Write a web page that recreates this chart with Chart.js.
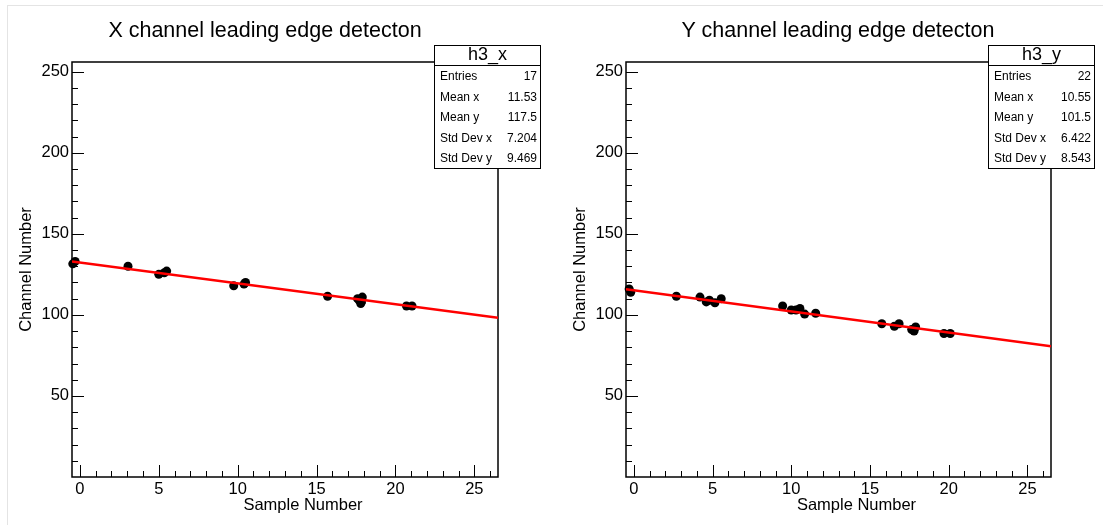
<!DOCTYPE html>
<html>
<head>
<meta charset="utf-8">
<script src="https://cdn.jsdelivr.net/npm/chart.js@4/dist/chart.umd.min.js"></script>
<style>
  body { margin: 0; background: #fff; font-family: "Liberation Sans", Arial, Helvetica, sans-serif; }
  #page { position: relative; width: 1103px; height: 525px; overflow: hidden; background: #fff; }
  #edge { position: absolute; left: 7px; top: 5px; width: 1100px; height: 530px; border-top: 1px solid #e4e4e4; border-left: 1px solid #e4e4e4; }
  canvas { position: absolute; top: 0; }
  .title { position: absolute; top: 17px; width: 420px; text-align: center; font-size: 21.5px; line-height: 26px; color: #000; }
  .stats { position: absolute; top: 45px; width: 105px; height: 122px; border: 1px solid #000; background: #fff; color: #000; }
  .stats .head { height: 19px; line-height: 17px; border-bottom: 1px solid #000; text-align: center; font-size: 18px; }
  .stats .row { display: flex; justify-content: space-between; padding: 0 3px 0 5px; font-size: 12px; line-height: 20.6px; }
</style>
</head>
<body>
<div id="page">
  <div id="edge"></div>
  <canvas id="chartX" width="551" height="525" style="left:0"></canvas>
  <canvas id="chartY" width="549" height="525" style="left:554px"></canvas>
  <div class="title" style="left:55px">X channel leading edge detecton</div>
  <div class="title" style="left:628px">Y channel leading edge detecton</div>
  <div class="stats" id="statsX" style="left:434px"></div>
  <div class="stats" id="statsY" style="left:988px"></div>
</div>
<script>
// tick labels
const xTickLabels = [0, 5, 10, 15, 20, 25];
const yTickLabels = [50, 100, 150, 200, 250];

// X channel: detected points and fitted line ends
const xSample  = [-0.45, -0.3, 3.05, 5.0, 5.35, 5.5, 9.75, 10.4, 10.5, 15.7, 17.6, 17.7, 17.8, 17.85, 17.9, 20.7, 21.05];
const xChannel = [131.5, 133, 130, 125, 126, 127, 118, 119, 120, 111.5, 110, 109, 107, 108, 111, 105.5, 105.5];
const xFitSample  = [-0.5, 26.5];
const xFitChannel = [133.0, 98.3];

// Y channel
const ySample  = [-0.3, -0.2, 2.7, 4.2, 4.6, 4.8, 5.15, 5.55, 9.45, 10.0, 10.3, 10.55, 10.85, 11.55, 15.75, 16.55, 16.85, 17.65, 17.8, 17.9, 19.7, 20.1];
const yChannel = [116, 114, 111.5, 111, 108, 109, 107.5, 110, 105.5, 103, 103, 104, 100.5, 101, 94.5, 93, 94.5, 91, 90, 92.5, 88.5, 88.5];
const yFitSample  = [-0.5, 26.5];
const yFitChannel = [115.8, 80.7];

// stats boxes
const statNames   = ['Entries', 'Mean x', 'Mean y', 'Std Dev x', 'Std Dev y'];
const statsXVals  = ['17', '11.53', '117.5', '7.204', '9.469'];
const statsYVals  = ['22', '10.55', '101.5', '6.422', '8.543'];

const FONT = '"Liberation Sans", Arial, Helvetica, sans-serif';

function fillStats(id, name, vals) {
  const el = document.getElementById(id);
  let html = '<div class="head">' + name + '</div>';
  statNames.forEach((n, i) => {
    html += '<div class="row"><span>' + n + '</span><span>' + vals[i] + '</span></div>';
  });
  el.innerHTML = html;
}
fillStats('statsX', 'h3_x', statsXVals);
fillStats('statsY', 'h3_y', statsYVals);

// frame, inward ticks and x axis title like a ROOT pad
const rootFrame = {
  id: 'rootFrame',
  beforeDatasetsDraw(chart) {
    const { ctx, chartArea: a, scales: { x, y } } = chart;
    ctx.save();
    ctx.strokeStyle = '#000';
    ctx.lineWidth = 1;
    ctx.beginPath();
    for (let v = 0; v <= x.max; v += 1) {
      const px = Math.round(x.getPixelForValue(v)) + 0.5;
      const len = xTickLabels.includes(v) ? 12 : 6;
      ctx.moveTo(px, a.bottom);
      ctx.lineTo(px, a.bottom - len);
    }
    for (let v = 10; v <= y.max; v += 10) {
      const py = Math.round(y.getPixelForValue(v)) + 0.5;
      const len = yTickLabels.includes(v) ? 12 : 6;
      ctx.moveTo(a.left, py);
      ctx.lineTo(a.left + len, py);
    }
    ctx.stroke();
    ctx.lineWidth = 1.5;
    ctx.strokeRect(a.left, a.top, a.right - a.left, a.bottom - a.top);
    ctx.restore();
  },
  afterDraw(chart) {
    const { ctx, chartArea: a } = chart;
    ctx.save();
    ctx.fillStyle = '#000';
    ctx.font = '16.5px ' + FONT;
    ctx.textAlign = 'center';
    ctx.textBaseline = 'middle';
    ctx.fillText('Sample Number', (a.left + a.right) / 2 + 18, 505);
    ctx.restore();
  }
};

function makeChart(id, sx, sy, fx, fy, padRight) {
  const pts = sx.map((v, i) => ({ x: v, y: sy[i] }));
  const fit = fx.map((v, i) => ({ x: v, y: fy[i] }));
  return new Chart(document.getElementById(id), {
    type: 'scatter',
    data: {
      datasets: [
        { type: 'line', data: fit, borderColor: '#ff0000', borderWidth: 2.5, pointRadius: 0, fill: false, order: 0 },
        { data: pts, backgroundColor: '#000', borderWidth: 0, pointRadius: 4.5, clip: false, order: 1 }
      ]
    },
    options: {
      responsive: false,
      animation: false,
      layout: { padding: { left: 0, right: padRight, top: 62, bottom: 0 } },
      plugins: { legend: { display: false }, tooltip: { enabled: false }, title: { display: false } },
      scales: {
        x: {
          type: 'linear', min: -0.5, max: 26.5,
          grid: { display: false, drawTicks: false },
          border: { display: false },
          ticks: { padding: 3, color: '#000', font: { size: 16.5, family: FONT }, maxRotation: 0, autoSkip: false },
          afterBuildTicks: s => { s.ticks = xTickLabels.map(v => ({ value: v })); },
          afterFit: s => { s.height = 48; }
        },
        y: {
          type: 'linear', min: 0, max: 256,
          grid: { display: false, drawTicks: false },
          border: { display: false },
          ticks: { padding: 3, color: '#000', font: { size: 16.5, family: FONT }, autoSkip: false },
          title: { display: true, text: 'Channel Number', color: '#000', font: { size: 16.5, family: FONT }, padding: { top: 17, bottom: 0 } },
          afterBuildTicks: s => { s.ticks = yTickLabels.map(v => ({ value: v })); },
          afterFit: s => { s.width = 72; }
        }
      }
    },
    plugins: [rootFrame]
  });
}

makeChart('chartX', xSample, xChannel, xFitSample, xFitChannel, 53);
makeChart('chartY', ySample, yChannel, yFitSample, yFitChannel, 52);
</script>
</body>
</html>
